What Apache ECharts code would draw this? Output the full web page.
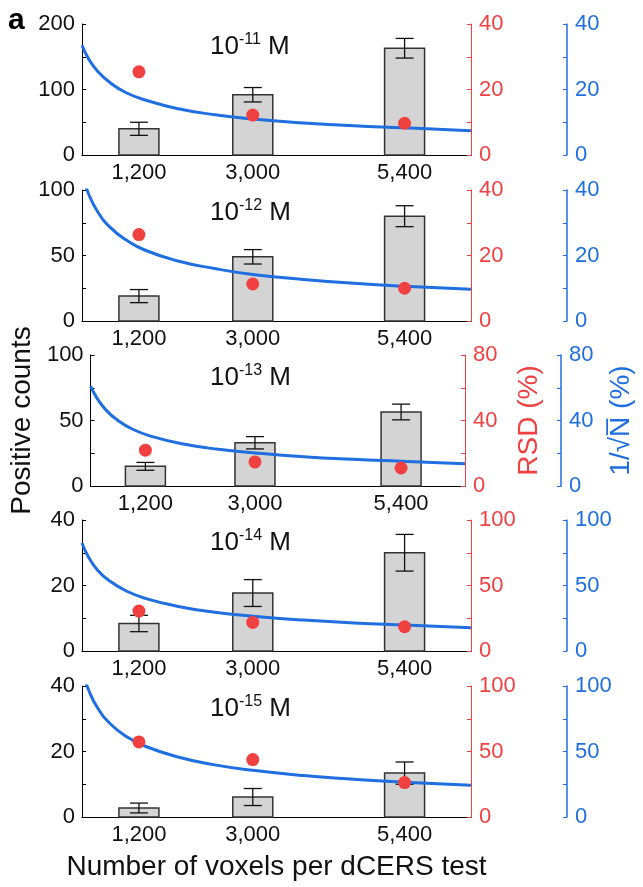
<!DOCTYPE html>
<html>
<head>
    <meta charset="utf-8">
    <script src="https://cdn.jsdelivr.net/npm/echarts@6.0.0/dist/echarts.min.js"></script>
</head>
<body style="margin: 0">
<div id="container" style="height: 887px; width: 643px;"></div>
<script>

// x positions (voxels per test) and their tick labels
var voxels = [1200, 3000, 5400];
var xTickLabels = ['1,200', '3,000', '5,400'];

// concentration exponent for each panel (10^x M)
var concExp = ['-11', '-12', '-13', '-14', '-15'];

// positive counts, mean and error (one row per panel)
var countMean = [
    [40, 92, 163],
    [19, 49, 80],
    [15, 33, 56.5],
    [8.4, 17.7, 30],
    [2.75, 6.1, 13.4]
];
var countErr = [
    [10, 11, 15],
    [5, 5.5, 8],
    [3, 4.7, 6],
    [2.5, 4.1, 5.6],
    [1.5, 2.6, 3.4]
];

// RSD (%) red dots
var rsd = [
    [25.4, 12.2, 9.7],
    [26.4, 11.3, 10],
    [21.9, 14.7, 11],
    [30.5, 21.8, 18.5],
    [57.3, 43.8, 26.3]
];

// 1/sqrt(N) (%) curve
var curveX = [300, 400, 550, 750, 1000, 1300, 1800, 2400, 3000, 3800, 4600, 5400, 6450];
var curve = [
    [33.5, 29.5, 25.5, 22, 19, 16.8, 14.2, 12.3, 11, 9.8, 8.9, 8.3, 7.4],
    [45, 39, 33.3, 28.5, 24.7, 21.6, 18.4, 16, 14.2, 12.7, 11.5, 10.6, 9.7],
    [61, 54, 46.5, 40, 34.5, 30.3, 25.8, 22.4, 20.2, 17.9, 16.3, 15.1, 13.6],
    [82.5, 72, 61.5, 53, 45.8, 40.2, 34.2, 29.6, 26.6, 23.6, 21.4, 19.8, 17.8],
    [112, 97.5, 83, 71, 61.5, 54, 46, 39.8, 35.6, 31.6, 28.8, 26.5, 24.2]
];

// axis maxima per panel
var countMax = [200, 100, 100, 40, 40];
var rightMax = [40, 40, 80, 100, 100];

var panelTops = [24, 190, 355, 520, 686];
var FONT = '"Liberation Sans", Arial, sans-serif';
var RED = '#f04040';
var BLUE = '#1f6fe0';

var dom = document.getElementById('container');
var myChart = echarts.init(dom);

function renderBar(params, api) {
    var x = api.value(0), m = api.value(1), e = api.value(2);
    var base = api.coord([x, 0]);
    var top = api.coord([x, m]);
    var hi = api.coord([x, m + e]);
    var lo = api.coord([x, m - e]);
    var w = 40, cap = 9;
    var errStyle = {stroke: '#111', lineWidth: 1.3};
    return {
        type: 'group',
        children: [
            {type: 'rect', shape: {x: base[0] - w / 2, y: top[1], width: w, height: base[1] - top[1]},
             style: {fill: '#d4d4d4', stroke: '#333', lineWidth: 1.5}},
            {type: 'line', shape: {x1: hi[0], y1: hi[1], x2: lo[0], y2: lo[1]}, style: errStyle},
            {type: 'line', shape: {x1: hi[0] - cap, y1: hi[1], x2: hi[0] + cap, y2: hi[1]}, style: errStyle},
            {type: 'line', shape: {x1: lo[0] - cap, y1: lo[1], x2: lo[0] + cap, y2: lo[1]}, style: errStyle}
        ]
    };
}

var grids = [], xAxes = [], yAxes = [], series = [], titles = [];

titles.push({text: 'a', left: 8, top: 6, padding: 0,
    textStyle: {fontSize: 30, fontWeight: 'bold', color: '#000', fontFamily: FONT}});

for (var i = 0; i < 5; i++) {
    grids.push({left: 82, right: 172, top: panelTops[i], height: 131});

    // bottom axis with labels
    xAxes.push({
        gridIndex: i, type: 'value', min: 300, max: 6450, position: 'bottom',
        axisLine: {lineStyle: {color: '#444', width: 1}},
        axisTick: {show: false},
        splitLine: {show: false},
        axisLabel: {
            customValues: voxels,
            formatter: function (v) { return xTickLabels[voxels.indexOf(v)]; },
            fontSize: 22, color: '#111', fontFamily: FONT, margin: 7
        },
        name: i === 4 ? 'Number of voxels per dCERS test' : '',
        nameLocation: 'middle', nameGap: 36,
        nameTextStyle: {fontSize: 28, color: '#111', fontFamily: FONT}
    });
    // top border
    xAxes.push({
        gridIndex: i, type: 'value', min: 300, max: 6450, position: 'top',
        axisLine: {lineStyle: {color: '#000', width: 1}},
        axisTick: {show: false}, axisLabel: {show: false}, splitLine: {show: false}
    });

    yAxes.push({
        gridIndex: i, type: 'value', min: 0, max: countMax[i], interval: countMax[i] / 2, position: 'left',
        axisLine: {show: true, lineStyle: {color: '#000'}},
        axisTick: {show: true, inside: true, length: 4, lineStyle: {color: '#000'}},
        minorTick: {show: true, splitNumber: 2, length: 4, lineStyle: {color: '#000'}},
        splitLine: {show: false},
        axisLabel: {fontSize: 22, color: '#111', fontFamily: FONT, margin: 7},
        name: i === 2 ? 'Positive counts' : '',
        nameLocation: 'middle', nameRotate: 90, nameGap: 44,
        nameTextStyle: {fontSize: 28, color: '#111', fontFamily: FONT}
    });
    yAxes.push({
        gridIndex: i, type: 'value', min: 0, max: rightMax[i], interval: rightMax[i] / 2, position: 'right',
        axisLine: {show: true, lineStyle: {color: RED}},
        axisTick: {show: true, inside: true, length: 4, lineStyle: {color: RED}},
        minorTick: {show: true, splitNumber: 2, length: 4, lineStyle: {color: RED}},
        splitLine: {show: false},
        axisLabel: {fontSize: 22, color: RED, fontFamily: FONT, margin: 8},
        name: i === 2 ? 'RSD (%)' : '',
        nameLocation: 'middle', nameRotate: 90, nameGap: 50,
        nameTextStyle: {fontSize: 28, color: RED, fontFamily: FONT}
    });
    yAxes.push({
        gridIndex: i, type: 'value', min: 0, max: rightMax[i], interval: rightMax[i] / 2, position: 'right', offset: 96,
        axisLine: {show: true, lineStyle: {color: BLUE, width: 1.5}},
        axisTick: {show: true, inside: true, length: 4, lineStyle: {color: BLUE}},
        minorTick: {show: true, splitNumber: 2, length: 4, lineStyle: {color: BLUE}},
        splitLine: {show: false},
        axisLabel: {fontSize: 22, color: BLUE, fontFamily: FONT, margin: 8},
        name: i === 2 ? '1/\u221AN\u0305 (%)' : '',
        nameLocation: 'middle', nameRotate: 90, nameGap: 46,
        nameTextStyle: {fontSize: 28, color: BLUE, fontFamily: FONT}
    });

    series.push({
        type: 'custom', xAxisIndex: 2 * i, yAxisIndex: 3 * i, z: 1,
        renderItem: renderBar,
        encode: {x: 0, y: 1},
        data: voxels.map(function (v, j) { return [v, countMean[i][j], countErr[i][j]]; })
    });
    series.push({
        type: 'line', xAxisIndex: 2 * i, yAxisIndex: 3 * i + 2, z: 3,
        smooth: true, showSymbol: false, clip: true,
        lineStyle: {color: BLUE, width: 3},
        data: curveX.map(function (v, j) { return [v, curve[i][j]]; })
    });
    series.push({
        type: 'scatter', xAxisIndex: 2 * i, yAxisIndex: 3 * i + 1, z: 4,
        symbolSize: 13, itemStyle: {color: RED, opacity: 1},
        data: voxels.map(function (v, j) { return [v, rsd[i][j]]; })
    });

    titles.push({
        text: '{a|10}{b|' + concExp[i] + '}{a| M}',
        left: 210, top: panelTops[i] + 8, padding: 0,
        textStyle: {
            fontFamily: FONT, fontWeight: 'normal',
            rich: {
                a: {fontSize: 26, lineHeight: 30, color: '#111', fontWeight: 'normal', fontFamily: FONT},
                b: {fontSize: 16, lineHeight: 18, verticalAlign: 'top', color: '#111', fontWeight: 'normal', fontFamily: FONT}
            }
        }
    });
}

var option = {
    animation: false,
    backgroundColor: '#fff',
    title: titles,
    grid: grids,
    xAxis: xAxes,
    yAxis: yAxes,
    series: series
};

myChart.setOption(option);

</script>
</body>
</html>
